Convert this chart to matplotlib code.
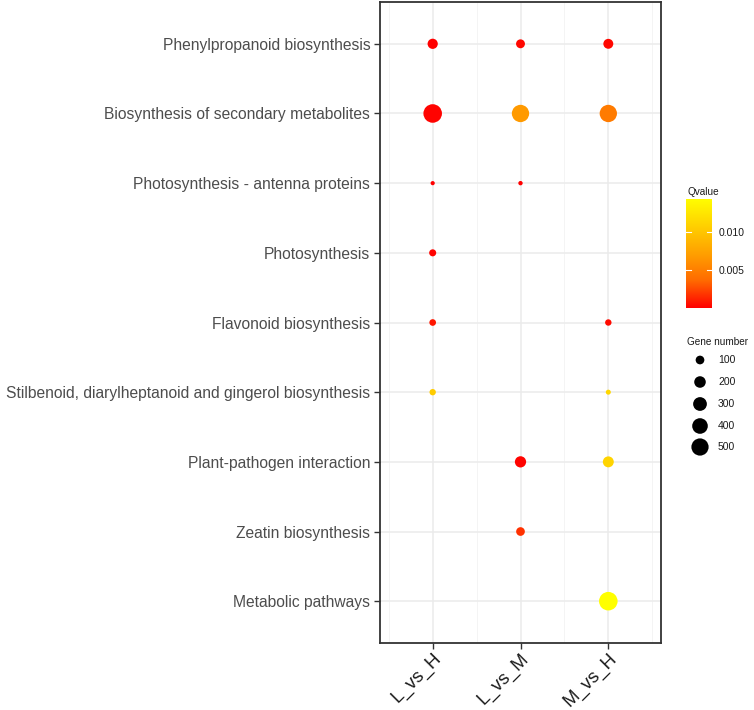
import numpy as np
import matplotlib
matplotlib.use("Agg")
import matplotlib.pyplot as plt
from matplotlib.colors import LinearSegmentedColormap, Normalize

# ---------------- data ----------------
pathways = [
    "Phenylpropanoid biosynthesis",
    "Biosynthesis of secondary metabolites",
    "Photosynthesis - antenna proteins",
    "Photosynthesis",
    "Flavonoid biosynthesis",
    "Stilbenoid, diarylheptanoid and gingerol biosynthesis",
    "Plant-pathogen interaction",
    "Zeatin biosynthesis",
    "Metabolic pathways",
]
groups = ["L_vs_H", "L_vs_M", "M_vs_H"]

point_group = ["L_vs_H"] * 6 + ["L_vs_M"] * 5 + ["M_vs_H"] * 6
point_pathway = [
    "Phenylpropanoid biosynthesis", "Biosynthesis of secondary metabolites",
    "Photosynthesis - antenna proteins", "Photosynthesis", "Flavonoid biosynthesis",
    "Stilbenoid, diarylheptanoid and gingerol biosynthesis",
    "Phenylpropanoid biosynthesis", "Biosynthesis of secondary metabolites",
    "Photosynthesis - antenna proteins", "Plant-pathogen interaction", "Zeatin biosynthesis",
    "Phenylpropanoid biosynthesis", "Biosynthesis of secondary metabolites",
    "Flavonoid biosynthesis", "Stilbenoid, diarylheptanoid and gingerol biosynthesis",
    "Plant-pathogen interaction", "Metabolic pathways",
]
gene_number = [149, 590, 12, 58, 50, 44,
               106, 506, 14, 188, 100,
               139, 506, 45, 22, 175, 590]
qvalue = [0.0001, 0.0002, 0.00005, 0.0002, 0.0008, 0.0103,
          0.0003, 0.0067, 0.0001, 0.0002, 0.0017,
          0.0003, 0.0047, 0.0004, 0.0112, 0.0110, 0.0143]

size_breaks = [100, 200, 300, 400, 500]
q_ticks = [0.005, 0.010]
q_tick_labels = ["0.005", "0.010"]

# ---------------- style ----------------
DPI = 100
fig = plt.figure(figsize=(7.54, 7.10), dpi=DPI)
plt.rcParams["font.family"] = ["Liberation Sans", "DejaVu Sans"]

cmap = LinearSegmentedColormap.from_list(
    "ryl", [(0, "#FF0000"), (0.25, "#FF6B00"), (0.5, "#FFA100"),
            (0.75, "#FFD100"), (1.0, "#FFFF00")])
norm = Normalize(vmin=min(qvalue), vmax=max(qvalue))


def size_scale(n):
    d_px = 1.8 + 0.69 * np.sqrt(np.asarray(n, float))
    return (d_px * 72.0 / DPI) ** 2


ax = fig.add_axes([380 / 754, 1 - 643 / 710, 281 / 754, 641 / 710])
xpos = {g: i + 1 for i, g in enumerate(groups)}
ypos = {p: len(pathways) - i for i, p in enumerate(pathways)}
xs = [xpos[g] for g in point_group]
ys = [ypos[p] for p in point_pathway]

ax.set_xlim(0.4, len(groups) + 0.6)
ax.set_ylim(0.4, len(pathways) + 0.6)
ax.set_xticks(range(1, len(groups) + 1))
ax.set_xticklabels(groups)
ax.set_xticks(np.arange(0.5, len(groups) + 1, 1.0), minor=True)
ax.set_yticks([ypos[p] for p in pathways])
ax.set_yticklabels(pathways)

ax.grid(True, which="major", color="#EBEBEB", linewidth=1.1, zorder=0)
ax.grid(True, which="minor", axis="x", color="#F2F2F2", linewidth=0.6, zorder=0)
ax.set_axisbelow(True)
for s in ax.spines.values():
    s.set_color("#333333")
    s.set_linewidth(1.3)
ax.tick_params(axis="both", which="major", length=4, color="#333333", width=1)
ax.tick_params(axis="both", which="minor", length=0)
ax.tick_params(axis="y", labelsize=11.25, labelcolor="#4D4D4D", pad=3)
ax.tick_params(axis="x", labelsize=13.3, labelcolor="#1A1A1A", pad=1)
for lab in ax.get_xticklabels():
    lab.set_rotation(45)
    lab.set_ha("right")
    lab.set_va("top")
    lab.set_rotation_mode("anchor")

ax.scatter(xs, ys, s=size_scale(gene_number), c=qvalue, cmap=cmap, norm=norm,
           linewidths=0, zorder=3)

# ---------------- colour bar legend ----------------
cax = fig.add_axes([686 / 754, 1 - 308 / 710, 26 / 754, 109 / 710])
grad = np.linspace(norm.vmin, norm.vmax, 256).reshape(-1, 1)
cax.imshow(grad, aspect="auto", cmap=cmap, norm=norm, origin="lower",
           extent=[0, 1, norm.vmin, norm.vmax])
cax.set_xlim(0, 1)
cax.set_ylim(norm.vmin, norm.vmax)
for t in q_ticks:
    cax.plot([0, 0.2], [t, t], color="white", lw=0.8)
    cax.plot([0.8, 1], [t, t], color="white", lw=0.8)
cax.set_xticks([])
cax.set_yticks(q_ticks)
cax.set_yticklabels(q_tick_labels)
cax.yaxis.tick_right()
cax.tick_params(axis="y", length=0, labelsize=7.5, labelcolor="#1A1A1A", pad=5)
for s in cax.spines.values():
    s.set_visible(False)
fig.text(687 / 754, 1 - 192 / 710, "Qvalue", fontsize=7.2, color="#1A1A1A",
         ha="left", va="center")

# ---------------- size legend ----------------
lax = fig.add_axes([0, 0, 1, 1], facecolor="none")
lax.set_xlim(0, 754)
lax.set_ylim(710, 0)
lax.axis("off")
fig.text(687 / 754, 1 - 342 / 710, "Gene number", fontsize=7.2, color="#1A1A1A",
         ha="left", va="center")
leg_y = [360, 382, 404, 426, 447]
lax.scatter([700] * len(size_breaks), leg_y, s=size_scale(size_breaks),
            color="black", linewidths=0)
for yy, b in zip(leg_y, size_breaks):
    lax.text(718, yy, str(b), fontsize=7.5, color="#1A1A1A", ha="left", va="center")

fig.savefig("out.png", dpi=DPI, facecolor="white")
